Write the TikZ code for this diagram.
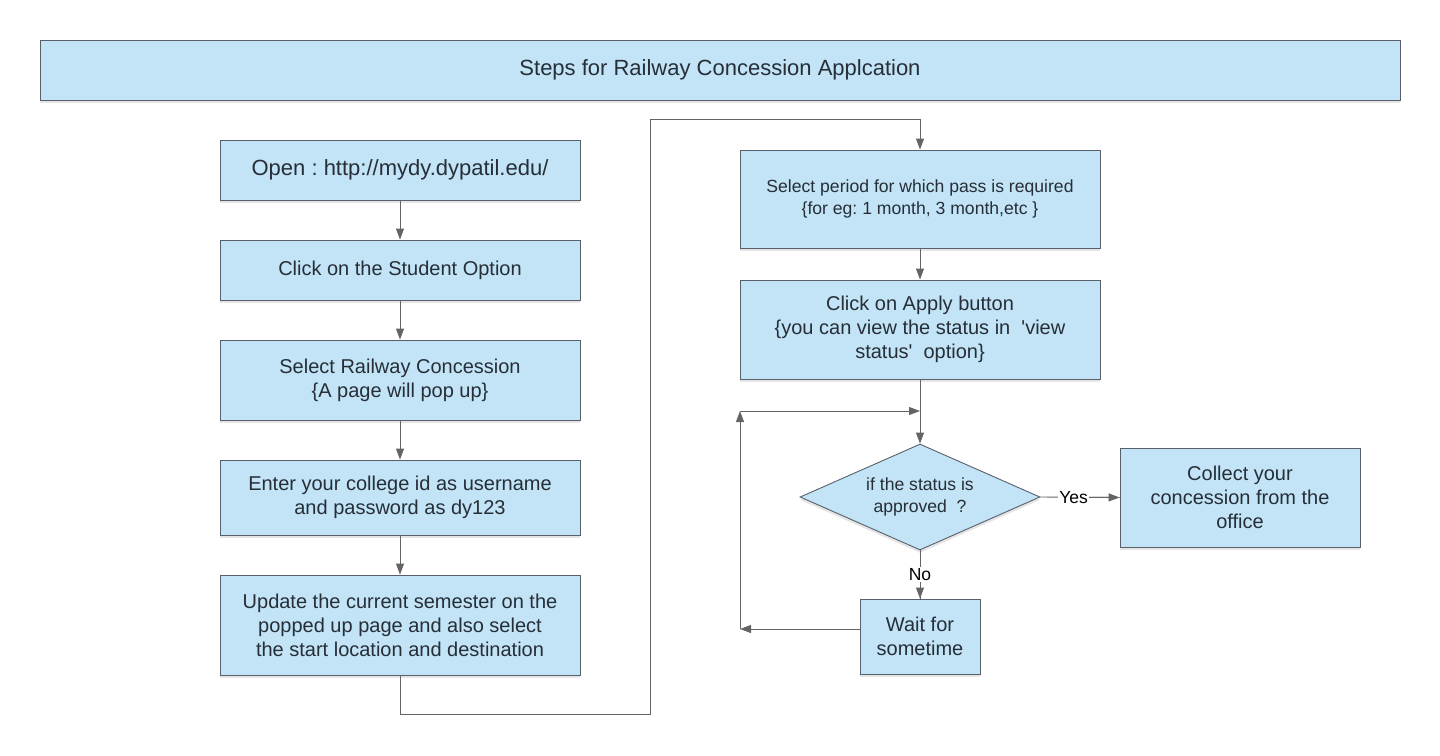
\documentclass[tikz,border=0pt]{standalone}
\usepackage{fontspec}
\setmainfont{Liberation Sans}
\usetikzlibrary{shapes.geometric,arrows.meta,shadows}
\definecolor{boxfill}{RGB}{194,228,246}
\definecolor{boxline}{RGB}{88,96,108}
\definecolor{linecol}{RGB}{100,100,100}
\definecolor{textcol}{RGB}{38,46,56}
\frenchspacing
\tikzset{
  box/.style={draw=boxline, fill=boxfill, line width=0.9pt, align=center, inner sep=0pt,
    text=textcol, font=\fontsize{20}{24}\selectfont,
    drop shadow={shadow xshift=0pt, shadow yshift=-3pt, opacity=0.10, fill=black}},
  small/.style={font=\fontsize{17.6}{22}\selectfont},
  big/.style={font=\fontsize{22}{26}\selectfont},
  arr/.style={draw=linecol, line width=0.9pt, -{Triangle[length=11pt,width=8pt]}},
  plain/.style={draw=linecol, line width=0.9pt},
  lbl/.style={fill=white, inner sep=1pt, text=black, font=\fontsize{17.5}{20}\selectfont}
}
\begin{document}
\begin{tikzpicture}[x=1pt,y=-1pt]
\useasboundingbox (0,0) rectangle (1440,755);
\fill[white] (0,0) rectangle (1440,755);

\node[box, big, minimum width=1360pt, minimum height=60pt] (title) at (720,70) {Steps for Railway Concession Applcation};

\node[box, big, minimum width=360pt, minimum height=60pt] (b1) at (400,170) {Open : http://mydy.dypatil.edu/};
\node[box, minimum width=360pt, minimum height=60pt] (b2) at (400,270) {Click on the Student Option};
\node[box, minimum width=360pt, minimum height=80pt] (b3) at (400,380) {Select Railway Concession\\ \{A page will pop up\}};
\node[box, minimum width=360pt, minimum height=75pt] (b4) at (400,497.5) {Enter your college id as username\\ and password as dy123};
\node[box, minimum width=360pt, minimum height=100pt] (b5) at (400,625) {Update the current semester on the\\ popped up page and also select\\ the start location and destination};

\node[box, small, minimum width=360pt, minimum height=98pt] (r1) at (920,199) {Select period for which pass is required\\ \{for eg: 1 month, 3 month,etc \}};
\node[box, minimum width=360pt, minimum height=99pt] (r2) at (920,329.5) {Click on Apply button\\ \{you can view the status in~ \textquotesingle view\\ status\textquotesingle~ option\}};
\node[box, small, shape=diamond, aspect=2.26, minimum width=240pt, minimum height=106pt] (d) at (920,497) {if the status is\\ approved~ ?};
\node[box, minimum width=240pt, minimum height=99pt] (col) at (1240,497.5) {Collect your\\ concession from the\\ office};
\node[box, minimum width=120pt, minimum height=75pt] (wait) at (920,636.5) {Wait for\\ sometime};

\draw[arr] (b1) -- (b2);
\draw[arr] (b2) -- (b3);
\draw[arr] (b3) -- (b4);
\draw[arr] (b4) -- (b5);

\coordinate (c1) at (650,714);
\coordinate (c2) at (650,119);
\draw[arr] (b5.south) |- (c1) -- (c2) -| (r1.north);

\draw[arr] (r1) -- (r2);
\draw[arr] (r2) -- (d);

\draw[plain] (d.east) -- (col.west) node[lbl, pos=0.42] (yes) {Yes};
\draw[arr] (yes.east) -- (col.west);
\draw[plain] (d.south) -- (wait.north) node[lbl, pos=0.5] (no) {No};
\draw[arr] (no.south) -- (wait.north);

\coordinate (l1) at (740,629);
\coordinate (l2) at (740,411);
\coordinate (l3) at (920,411);
\draw[arr] (wait.west |- l1) -- (l1);
\draw[arr] (l1) -- (l2);
\draw[arr] (l2) -- (l3);
\end{tikzpicture}
\end{document}
